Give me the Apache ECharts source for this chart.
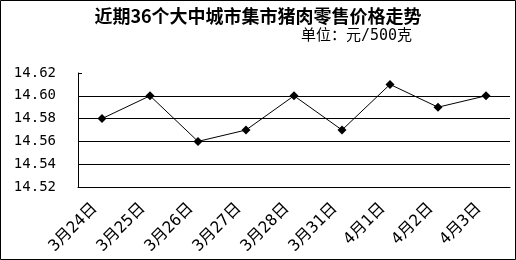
<!DOCTYPE html>
<html><head><meta charset="utf-8">
<script src="https://cdn.jsdelivr.net/npm/echarts@6/dist/echarts.min.js"></script>
<style>html,body{margin:0;padding:0;background:#fff}#c{width:516px;height:260px}</style>
</head><body><div id="c"></div>
<script>
const categories = ['3月24日','3月25日','3月26日','3月27日','3月28日','3月31日','4月1日','4月2日','4月3日'];
const prices = [14.58, 14.60, 14.56, 14.57, 14.60, 14.57, 14.61, 14.59, 14.60];
const gridValues = [14.54, 14.56, 14.58, 14.60];
const yMin = 14.52, yMax = 14.62, yStep = 0.02;
const titleText = '近期36个大中城市集市猪肉零售价格走势';
const unitText = '单位：元/500克';

const chart = echarts.init(document.getElementById('c'), null, {renderer:'canvas'});
chart.setOption({
  animation:false,
  backgroundColor:'#fff',
  title:[
    {text:titleText, left:'center', top:2, textStyle:{fontFamily:'"Noto Sans CJK SC"', fontWeight:'bold', fontSize:18, color:'#000'}},
    {text:unitText, left:296, top:24, textStyle:{fontFamily:'"DejaVu Sans Mono","Noto Sans CJK SC"', fontWeight:'normal', fontSize:15, color:'#000'}}
  ],
  graphic:[{type:'rect', shape:{x:0.5,y:0.5,width:515,height:259}, style:{fill:'none', stroke:'#000', lineWidth:1}, silent:true}],
  grid:{left:78, right:6, top:73, bottom:73},
  xAxis:{
    type:'category', data:categories, boundaryGap:true,
    axisLine:{lineStyle:{color:'#000', width:1}},
    axisTick:{inside:true, length:5, lineStyle:{color:'#000'}},
    axisLabel:{rotate:45, margin:12, padding:[0,10,0,0], color:'#000', fontSize:16, fontFamily:'"DejaVu Sans Mono","Noto Sans CJK SC"'}
  },
  yAxis:{
    type:'value', min:yMin, max:yMax, interval:yStep,
    axisLine:{show:true, lineStyle:{color:'#000', width:1}},
    axisTick:{show:true, inside:true, length:4, lineStyle:{color:'#000'}},
    splitLine:{show:false},
    axisLabel:{color:'#000', fontSize:14, margin:22, fontFamily:'"DejaVu Sans Mono"', formatter:v=>v.toFixed(2)}
  },
  series:[{
    type:'line', data:prices,
    symbol:'diamond', symbolSize:9,
    lineStyle:{color:'#000', width:1},
    itemStyle:{color:'#000'},
    markLine:{silent:true, symbol:'none', label:{show:false},
      lineStyle:{color:'#000', width:1, type:'solid'},
      data:gridValues.map(v=>({yAxis:v}))}
  }]
});
</script></body></html>
